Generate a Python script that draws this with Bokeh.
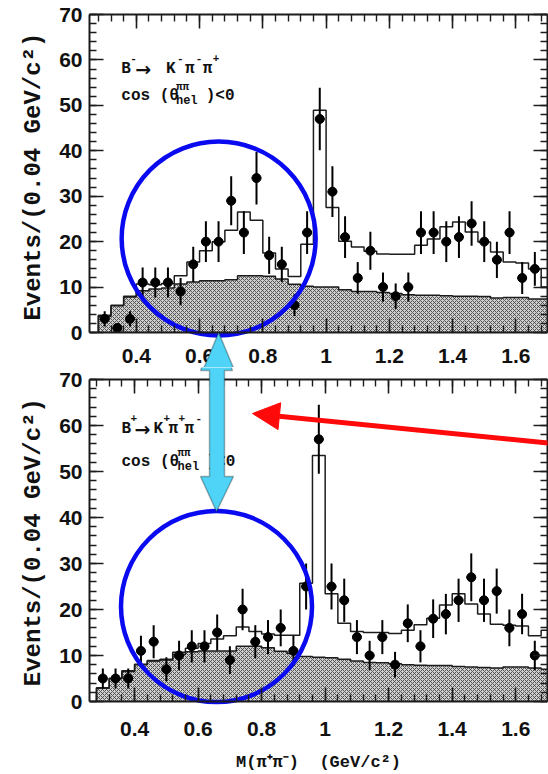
from bokeh.plotting import figure
from bokeh.layouts import column
from bokeh.models import (Range1d, LinearAxis, FixedTicker, CustomJSTickFormatter,
                          Label, PolyAnnotation, Arrow, NormalHead)
from bokeh.embed import file_html
from bokeh.resources import INLINE

# ---------------- data ----------------
bin_centers = [0.30, 0.34, 0.38, 0.42, 0.46, 0.50, 0.54, 0.58, 0.62, 0.66, 0.70, 0.74,
               0.78, 0.82, 0.86, 0.90, 0.94, 0.98, 1.02, 1.06, 1.10, 1.14, 1.18, 1.22,
               1.26, 1.30, 1.34, 1.38, 1.42, 1.46, 1.50, 1.54, 1.58, 1.62, 1.66, 1.70]

# B- panel
top_fit = [3.8, 6.0, 8.0, 10.7, 10.5, 10.8, 12.5, 15.5, 18.0, 20.0, 22.5, 26.5,
           24.7, 17.5, 14.0, 12.3, 19.4, 48.9, 27.5, 20.1, 18.8, 17.9, 17.3, 17.2,
           17.2, 19.2, 20.6, 23.3, 24.3, 22.1, 19.9, 17.7, 15.5, 15.3, 14.0, 10.0]
top_bkg = [3.6, 5.9, 7.8, 9.2, 9.6, 9.8, 10.7, 11.1, 11.4, 11.4, 11.6, 12.5,
           12.5, 12.4, 11.8, 10.6, 10.2, 10.0, 10.0, 9.4, 9.0, 9.0, 8.8, 8.6,
           8.3, 8.2, 8.2, 8.1, 8.0, 8.0, 7.9, 7.6, 7.7, 7.7, 7.4, 7.4]
top_counts = [3, 1, 3, 11, 11, 11, 9, 15, 20, 20, 29, 22,
              34, 17, 15, 6, 22, 47, 31, 21, 12, 18, 10, 8,
              10, 22, 22, 20, 21, 24, 20, 16, 22, 12, 14]
top_err = [1.7, 1.0, 1.7, 3.3, 3.3, 3.3, 3.0, 3.9, 4.5, 4.5, 5.4, 4.7,
           5.8, 4.1, 3.9, 2.4, 4.7, 6.9, 5.6, 4.6, 3.5, 4.2, 3.2, 2.8,
           3.2, 4.7, 4.7, 4.5, 4.6, 4.9, 4.5, 4.0, 4.7, 3.5, 3.7]

# B+ panel
bot_fit = [3.0, 5.0, 6.7, 8.1, 8.9, 9.2, 10.7, 11.6, 12.6, 13.6, 14.3, 16.2,
           15.2, 14.7, 14.4, 14.4, 25.7, 53.5, 23.4, 17.0, 15.2, 15.0, 15.0, 14.8,
           15.5, 16.7, 18.1, 21.0, 23.4, 21.2, 19.0, 16.8, 16.6, 16.4, 14.3, 15.5]
bot_bkg = [2.9, 5.0, 6.5, 8.0, 8.8, 9.0, 10.2, 10.8, 11.0, 11.0, 11.0, 12.0,
           12.0, 11.7, 10.9, 10.5, 9.8, 9.6, 9.5, 9.2, 8.8, 8.5, 8.4, 8.2,
           8.0, 7.9, 7.8, 7.8, 7.6, 7.5, 7.4, 7.3, 7.5, 7.5, 7.3, 7.0]
bot_counts = [5, 5, 5, 11, 13, 7, 10, 12, 12, 15, 9, 20,
              13, 14, 16, 11, 25, 57, 25, 22, 14, 10, 14, 8,
              17, 12, 18, 19, 22, 27, 22, 24, 16, 19, 10]
bot_err = [2.2, 2.2, 2.2, 3.3, 3.6, 2.6, 3.2, 3.5, 3.5, 3.9, 3.0, 4.5,
           3.6, 3.7, 4.0, 3.3, 5.0, 7.5, 5.0, 4.7, 3.7, 3.2, 3.7, 2.8,
           4.1, 3.5, 4.2, 4.4, 4.7, 5.2, 4.7, 4.9, 4.0, 4.4, 3.2]

x_ticks = [0.4, 0.6, 0.8, 1.0, 1.2, 1.4, 1.6]
y_ticks = [0, 10, 20, 30, 40, 50, 60, 70]
Y_MAX = 70

# ---------------- style / geometry ----------------
MONO = "Liberation Mono"
SANS = "Liberation Sans"
INK = "#1c1c1c"
BIN_HALF = 0.02
PAGE_W = 548
x_minor = [round(0.24 + 0.04 * i, 2) for i in range(38)]
y_minor = list(range(0, 72, 2))
NB = "\u00a0"

# page-pixel geometry of each panel
TOP = dict(left=86, right=547, top=14, zero=332, canvas_top=0, canvas_bottom=367,
           frame_top=14, x0=0.252, x1=1.70, ylabel_shift=2, tick_standoff=16)
BOT = dict(left=89, right=547, top=379, zero=701, canvas_top=367, canvas_bottom=774,
           frame_top=367, x0=0.258, x1=1.70, ylabel_shift=4, tick_standoff=20)


def scales(g):
    ppx = (g["right"] - g["left"]) / (g["x1"] - g["x0"])
    ppy = (g["zero"] - g["top"]) / Y_MAX
    return ppx, ppy


def to_data(g, px, py):
    ppx, ppy = scales(g)
    return g["x0"] + (px - g["left"]) / ppx, (g["zero"] - py) / ppy


def style_axis(ax, labels=True):
    ax.major_tick_in = 14
    ax.major_tick_out = 0
    ax.minor_tick_in = 7
    ax.minor_tick_out = 0
    ax.axis_line_color = INK
    ax.axis_line_width = 2
    ax.major_tick_line_color = INK
    ax.major_tick_line_width = 1.6
    ax.minor_tick_line_color = INK
    ax.minor_tick_line_width = 1.4
    if labels:
        ax.major_label_text_font = SANS
        ax.major_label_text_font_style = "bold"
        ax.major_label_text_font_size = "21px"
        ax.major_label_text_color = "#111111"
    else:
        ax.major_label_text_font_size = "1px"
        ax.major_label_text_color = None
        ax.major_label_standoff = 0


def make_panel(g, fit, bkg, counts, err, xlabel):
    ppx, ppy = scales(g)
    y_lo = -(g["canvas_bottom"] - g["zero"]) / ppy
    y_hi = Y_MAX + (g["top"] - g["frame_top"]) / ppy
    extended_top = g["frame_top"] < g["top"]
    p = figure(width=PAGE_W, height=g["canvas_bottom"] - g["canvas_top"],
               x_range=Range1d(g["x0"], g["x1"]), y_range=Range1d(y_lo, y_hi),
               title=None, output_backend="svg", toolbar_location=None,
               x_axis_location=None, y_axis_location=None,
               min_border_left=g["left"], min_border_right=PAGE_W - g["right"],
               min_border_top=g["frame_top"] - g["canvas_top"], min_border_bottom=0)
    p.grid.visible = False
    p.outline_line_color = None
    p.background_fill_color = "white"
    p.border_fill_color = "white"

    xt = FixedTicker(ticks=x_ticks, minor_ticks=x_minor)
    yt = FixedTicker(ticks=y_ticks, minor_ticks=y_minor)

    xa = LinearAxis(ticker=xt, fixed_location=0,
                    formatter=CustomJSTickFormatter(
                        code="return (Math.round(tick*10)/10).toString();"))
    style_axis(xa)
    xa.major_label_standoff = g["tick_standoff"]
    if xlabel:
        xa.axis_label = xlabel
        xa.axis_label_text_font = MONO
        xa.axis_label_text_font_style = "bold"
        xa.axis_label_text_font_size = "17px"
        xa.axis_label_text_color = "#111111"
        xa.axis_label_standoff = 14
    p.add_layout(xa, "below")

    ya = LinearAxis(ticker=yt, bounds=(0, Y_MAX))
    style_axis(ya)
    ya.major_label_standoff = 7
    ya.axis_label = NB * g["ylabel_shift"] + "Events/(0.04" + NB + "GeV/c²)"
    ya.axis_label_text_font = MONO
    ya.axis_label_text_font_style = "bold"
    ya.axis_label_text_font_size = "24px"
    ya.axis_label_text_color = "#111111"
    ya.axis_label_standoff = 9
    p.add_layout(ya, "left")

    ta = LinearAxis(ticker=xt, fixed_location=Y_MAX if extended_top else None)
    style_axis(ta, labels=False)
    p.add_layout(ta, "above")
    ra = LinearAxis(ticker=yt, bounds=(0, Y_MAX))
    style_axis(ra, labels=False)
    p.add_layout(ra, "right")

    edges = [c - BIN_HALF for c in bin_centers] + [bin_centers[-1] + BIN_HALF]
    bk = list(bkg) + [bkg[-1]]
    ft_ = list(fit) + [fit[-1]]
    p.varea_step(x=edges, y1=[0] * len(edges), y2=bk, step_mode="after",
                 fill_color="#cfcfcf", hatch_pattern="x", hatch_scale=4,
                 hatch_color="#474747", hatch_weight=0.9)
    p.step(x=[edges[0]] + edges, y=[0] + bk, mode="after", line_color=INK, line_width=1.5)
    p.step(x=[edges[0]] + edges, y=[0] + ft_, mode="after", line_color=INK, line_width=1.5)

    px_ = bin_centers[:len(counts)]
    p.segment(x0=px_, y0=[max(0, c - e) for c, e in zip(counts, err)], x1=px_,
              y1=[c + e for c, e in zip(counts, err)], line_color="black", line_width=2)
    p.segment(x0=[x - 0.015 for x in px_], y0=counts, x1=[x + 0.015 for x in px_], y1=counts,
              line_color="black", line_width=2)
    p.scatter(px_, counts, size=9, color="black")
    return p


top = make_panel(TOP, top_fit, top_bkg, top_counts, top_err, None)
bot = make_panel(BOT, bot_fit, bot_bkg, bot_counts, bot_err,
                 "M(π⁺π⁻)" + NB * 2 + "(GeV/c²)")

FONTS = {"main": (MONO, 16, 0), "sup": (MONO, 11, -10), "arrow": ("DejaVu Sans", 19, 0),
         "sup2": (MONO, 11, -9), "sub": (MONO, 12, 5), "big": (SANS, 42, 0)}


def add_text(p, g, px, py, text, kind="main", italic=False, color="#111111"):
    font, size, dy = FONTS[kind]
    x, y = to_data(g, px, py + dy)
    p.add_layout(Label(x=x, y=y, text=text, text_font=font, text_font_size=f"{size}px",
                       text_font_style="bold italic" if italic else "bold",
                       text_color=color, text_baseline="alphabetic", text_align="left"))


# panel captions (pieces at their page x positions, baselines in page y)
for t, x, k in [("B", 118, "main"), ("-", 127, "sup"), ("→", 132, "arrow"),
                ("K", 163, "main"), ("-", 174, "sup"), ("π", 182, "main"),
                ("-", 193, "sup"), ("π", 200, "main"), ("+", 210, "sup")]:
    add_text(top, TOP, x, 68, t, k)
for t, x, k in [("cos (θ", 118, "main"), ("ππ", 173, "sup2"), ("hel", 173, "sub"),
                (")<0", 203, "main")]:
    add_text(top, TOP, x, 95, t, k)

for t, x, k in [("B", 121, "main"), ("+", 130, "sup"), ("→", 134, "arrow"),
                ("K", 153, "main"), ("+", 163, "sup"), ("π", 168, "main"),
                ("+", 178, "sup"), ("π", 184, "main"), ("-", 195, "sup")]:
    add_text(bot, BOT, x, 428, t, k)
for t, x, k in [("cos (θ", 121, "main"), ("ππ", 177, "sup2"), ("hel", 177, "sub"),
                (")<0", 206, "main")]:
    add_text(bot, BOT, x, 461, t, k)

# blue circles
for p, g, cx, cy, d in [(top, TOP, 216, 238, 194), (bot, BOT, 216, 606, 191)]:
    x, y = to_data(g, cx, cy)
    p.scatter([x], [y], size=d, marker="circle", fill_alpha=0, line_color="#0a0af0",
              line_width=4.5)

# red arrow
sx, sy = to_data(BOT, 552, 443)
ex, ey = to_data(BOT, 252, 413)
bot.add_layout(Arrow(x_start=sx, y_start=sy, x_end=ex, y_end=ey, line_color="#ff0a0a",
                     line_width=5,
                     end=NormalHead(size=27, fill_color="#ff0a0a", line_color="#ff0a0a")))

# cyan double arrow crossing both panels (page pixels)
cyan_pts = [(216, 332), (232, 370), (224, 370), (224, 476), (233, 476), (216, 511),
            (200, 476), (209, 476), (209, 370), (200, 370)]
for p, g in [(top, TOP), (bot, BOT)]:
    pts = [to_data(g, a, b) for a, b in cyan_pts]
    p.add_layout(PolyAnnotation(xs=[a for a, b in pts], ys=[b for a, b in pts],
                                fill_color="#4fd3f6", fill_alpha=1.0,
                                line_color="black", line_width=1.5))

# partially visible red caption at the page bottom
add_text(bot, BOT, 22, 796, "CPV", "big", italic=True, color="#7d0c0c")

layout = column(top, bot, spacing=0)
with open("out.html", "w") as f:
    f.write(file_html(layout, INLINE))
